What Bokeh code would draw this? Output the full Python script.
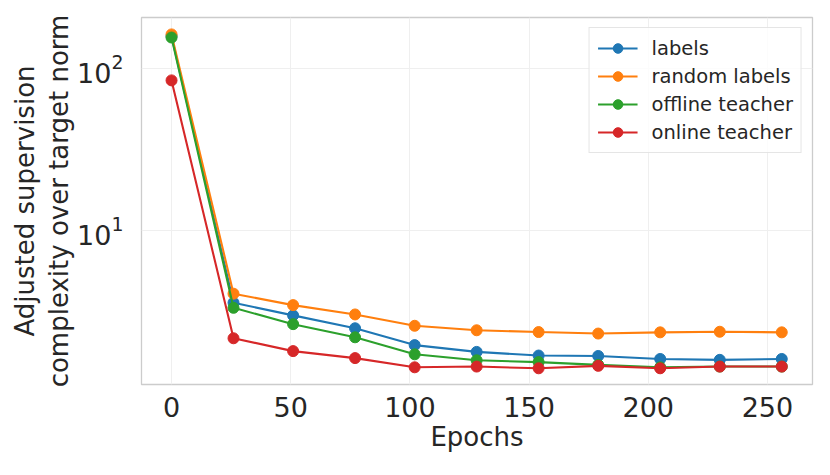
from bokeh.plotting import figure
from bokeh.models import Range1d, FixedTicker, Legend, LegendItem
from bokeh.embed import file_html
from bokeh.resources import INLINE

epochs = [0, 26, 51, 77, 102, 128, 154, 179, 205, 230, 256]
labels = [158, 3.58, 2.99, 2.49, 1.96, 1.78, 1.69, 1.68, 1.61, 1.59, 1.61]
random_labels = [162, 4.07, 3.46, 3.03, 2.58, 2.42, 2.36, 2.31, 2.35, 2.37, 2.35]
offline_teacher = [155, 3.33, 2.64, 2.19, 1.72, 1.58, 1.54, 1.48, 1.43, 1.445, 1.445]
online_teacher = [84.3, 2.16, 1.80, 1.63, 1.43, 1.445, 1.41, 1.46, 1.41, 1.445, 1.445]

series = [
    ("labels", labels, "#1f77b4"),
    ("random labels", random_labels, "#ff7f0e"),
    ("offline teacher", offline_teacher, "#2ca02c"),
    ("online teacher", online_teacher, "#d62728"),
]
x_ticks = [0, 50, 100, 150, 200, 250]
y_ticks = [10, 100]

FONT = "DejaVu Sans"
TXT = "#262626"

p = figure(width=822, height=467, y_axis_type="log",
           x_range=Range1d(-12.6, 268.9), y_range=Range1d(1.12, 206),
           output_backend="svg", toolbar_location=None,
           min_border_left=141, min_border_right=10,
           min_border_top=17, min_border_bottom=83)

items = []
for name, ys, col in series:
    r1 = p.line(epochs, ys, line_color=col, line_width=2.1)
    r2 = p.scatter(epochs, ys, size=11, fill_color=col, line_color=col)
    items.append(LegendItem(label=name, renderers=[r1, r2]))

legend = Legend(items=items, location="top_right",
                label_text_font=FONT, label_text_font_size="19.5px",
                label_text_color=TXT, glyph_width=40, glyph_height=24,
                label_height=24, spacing=4, padding=8, label_standoff=14,
                border_line_color="#cccccc", border_line_width=1.2,
                background_fill_color="white", background_fill_alpha=0.8,
                margin=10)
p.add_layout(legend, "center")

p.outline_line_color = "#cccccc"
p.outline_line_width = 1.3
p.background_fill_color = "white"

p.xaxis.ticker = FixedTicker(ticks=x_ticks)
p.yaxis.ticker = FixedTicker(ticks=y_ticks, minor_ticks=[])
p.xgrid.ticker = FixedTicker(ticks=x_ticks)
p.ygrid.ticker = FixedTicker(ticks=y_ticks, minor_ticks=[])
p.grid.grid_line_color = "#efefef"
p.grid.grid_line_width = 1

for ax in (p.xaxis, p.yaxis):
    ax.axis_line_color = None
    ax.major_tick_line_color = None
    ax.minor_tick_line_color = None
    ax.major_label_text_font = FONT
    ax.major_label_text_font_size = "27px"
    ax.major_label_text_color = TXT
    ax.axis_label_text_font = FONT
    ax.axis_label_text_font_size = "26px"
    ax.axis_label_text_font_style = "normal"
    ax.axis_label_text_color = TXT

p.xaxis.axis_label = "Epochs"
p.xaxis.major_label_standoff = 6
p.xaxis.axis_label_standoff = 2
p.yaxis.axis_label = "Adjusted supervision\ncomplexity over target norm"
p.yaxis.axis_label_text_line_height = 1.15
p.yaxis.major_label_standoff = 12
p.yaxis.axis_label_standoff = 0

open("out.html", "w").write(file_html(p, INLINE))
